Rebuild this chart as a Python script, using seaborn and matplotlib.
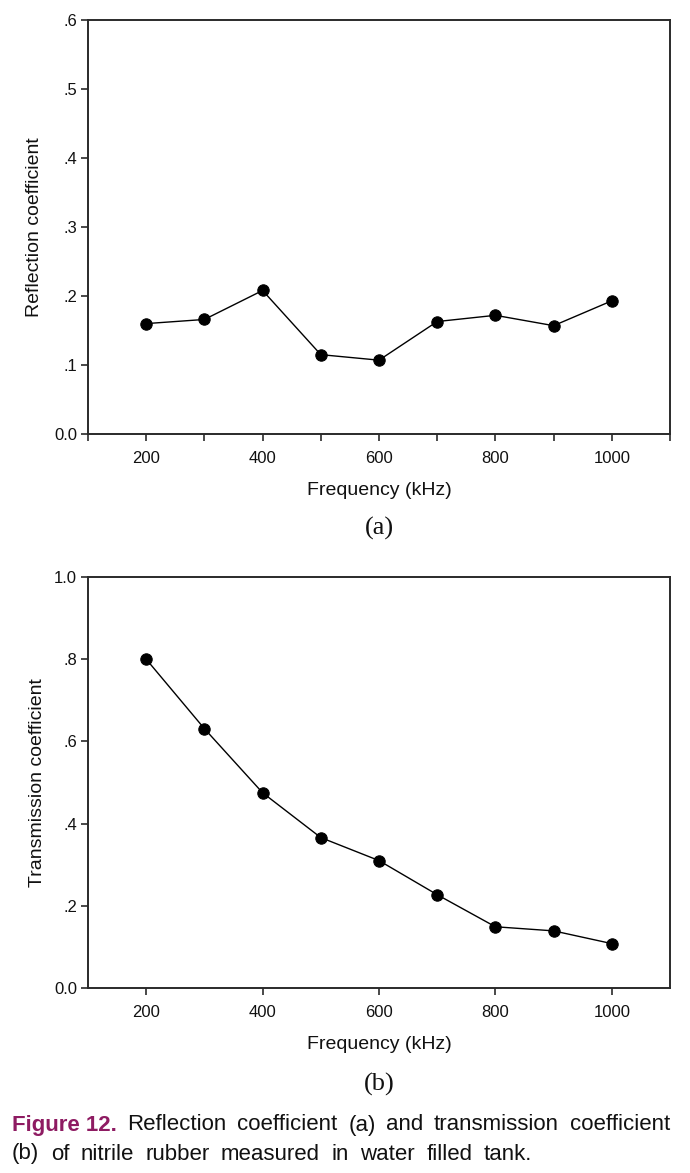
import matplotlib
matplotlib.use("Agg")
import matplotlib.pyplot as plt
from matplotlib import font_manager as fm
import seaborn as sns
import pandas as pd

freq = [200, 300, 400, 500, 600, 700, 800, 900, 1000]
reflection = [0.160, 0.166, 0.208, 0.115, 0.107, 0.163, 0.172, 0.157, 0.193]
transmission = [0.800, 0.631, 0.475, 0.366, 0.310, 0.227, 0.149, 0.139, 0.108]

ytick_a = [0.0, 0.1, 0.2, 0.3, 0.4, 0.5, 0.6]
ylabels_a = ["0.0", ".1", ".2", ".3", ".4", ".5", ".6"]
ytick_b = [0.0, 0.2, 0.4, 0.6, 0.8, 1.0]
ylabels_b = ["0.0", ".2", ".4", ".6", ".8", "1.0"]
xlabels = ["200", "400", "600", "800", "1000"]

caption_bold = "Figure 12."
caption_line1 = "Reflection coefficient (a) and transmission coefficient"
caption_line2 = "(b) of nitrile rubber measured in water filled tank."

sns.set_style("ticks")
plt.rcParams['font.family'] = ['Liberation Sans', 'DejaVu Sans']

W, H = 690, 1173
fig = plt.figure(figsize=(W / 100, H / 100), dpi=100)


def box(l, t, r, b):
    return [l / W, 1 - b / H, (r - l) / W, (b - t) / H]


ax1 = fig.add_axes(box(88, 20, 670, 434))
ax2 = fig.add_axes(box(88, 577, 670, 988))

df_a = pd.DataFrame({"Frequency": freq, "Value": reflection})
df_b = pd.DataFrame({"Frequency": freq, "Value": transmission})

for ax, df in ((ax1, df_a), (ax2, df_b)):
    sns.lineplot(data=df, x="Frequency", y="Value", ax=ax, color="black",
                 linewidth=1.0, marker="o", markersize=8.2,
                 markerfacecolor="black", markeredgecolor="black")
    ax.set_xlim(100, 1100)
    for s in ax.spines.values():
        s.set_visible(True)
        s.set_linewidth(1.4)
        s.set_color("#2a2a2a")
    ax.tick_params(axis="both", direction="out", length=5, width=1.2,
                   color="#2a2a2a", labelsize=12, labelcolor="#111111")
    ax.tick_params(axis="x", pad=7)
    ax.tick_params(axis="y", pad=3)
    ax.set_xlabel("Frequency (kHz)", fontsize=14, labelpad=12, color="#111111")

# top
ax1.set_ylim(0, 0.6)
ax1.set_yticks(ytick_a)
ax1.set_yticklabels(ylabels_a)
ax1.set_xticks(list(range(100, 1101, 100)))
ax1.set_xticklabels(["", "200", "", "400", "", "600", "", "800", "", "1000", ""])
ax1.set_ylabel("Reflection coefficient", fontsize=14, labelpad=8, color="#111111")

# bottom
ax2.set_ylim(0, 1.0)
ax2.set_yticks(ytick_b)
ax2.set_yticklabels(ylabels_b)
ax2.set_xticks([200, 400, 600, 800, 1000])
ax2.set_xticklabels(xlabels)
ax2.set_ylabel("Transmission coefficient", fontsize=14, labelpad=6, color="#111111")

# panel labels
fig.text(379 / W, 1 - 528 / H, "(a)", ha="center", va="center",
         fontsize=19, family="Liberation Serif", color="#111111")
fig.text(379 / W, 1 - 1084 / H, "(b)", ha="center", va="center",
         fontsize=19, family="Liberation Serif", color="#111111")

# caption (justified manually)
try:
    fm.findfont(fm.FontProperties(family="Liberation Sans Narrow"),
                fallback_to_default=False)
    cap_family, cap_size = "Liberation Sans Narrow", 19.5
except Exception:
    cap_family, cap_size = "Liberation Sans", 16

renderer = fig.canvas.get_renderer()


def justify(words, y_px, x0, x1, bold_first=0):
    texts = []
    for i, w in enumerate(words):
        bold = i < bold_first
        t = fig.text(0, 1 - y_px / H, w, ha="left", va="center",
                     fontsize=cap_size, family=cap_family,
                     fontweight="bold" if bold else "normal",
                     color="#8e1b62" if bold else "#111111")
        texts.append(t)
    widths = [t.get_window_extent(renderer).width for t in texts]
    gap = (x1 - x0 - sum(widths)) / (len(words) - 1)
    x = x0
    for t, w in zip(texts, widths):
        t.set_x(x / W)
        x += w + gap


justify([caption_bold] + caption_line1.split(), 1125, 12, 670, bold_first=1)
justify(caption_line2.split(), 1154, 12, 532)

fig.savefig("out.png", dpi=100, facecolor="white")
